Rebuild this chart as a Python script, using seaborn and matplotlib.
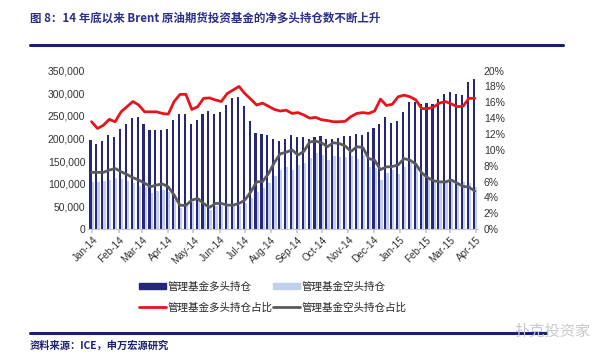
import numpy as np
import pandas as pd
import matplotlib
matplotlib.use("Agg")
import matplotlib.pyplot as plt
import matplotlib.dates as mdates
from matplotlib.patches import Patch
from matplotlib.lines import Line2D
from matplotlib.ticker import FuncFormatter
import seaborn as sns

# weekly data, Brent managed money positions
dates = pd.date_range("2013-12-31", periods=66, freq="7D")

long_pos = [197, 187, 194, 208, 204, 222, 233, 246, 247, 231, 219, 219, 219, 221, 242, 255, 255,
            233, 240, 255, 260, 255, 258, 275, 290, 291, 272, 238, 212, 210, 207, 200, 194,
            198, 208, 203, 203, 200, 203, 205, 200, 200, 202, 206, 206, 209, 208, 214, 224, 231,
            248, 234, 239, 259, 280, 280, 276, 279, 276, 287, 298, 302, 298, 296, 324, 332]
short_pos = [103, 103, 106, 108, 113, 110, 106, 101, 95, 94, 80, 85, 86, 82, 64, 47, 52, 60, 64, 53, 43,
             51, 52, 49, 50, 52, 58, 68, 82, 90, 101,
             118, 130, 138, 130, 141, 145, 156, 167, 164, 153, 161, 159, 160, 162,
             154, 164, 138, 134, 108, 123, 130, 121, 138, 145, 138, 123, 112, 105, 105, 105, 108, 105, 105, 101, 94]
long_pct = [13.55, 12.7, 13.1, 13.85, 13.55, 14.8, 15.45, 16.1, 15.66, 14.8, 14.8, 14.8, 14.6, 14.5, 16.1,
            17.0, 17.0, 15.1, 15.45, 16.5, 16.55,
            16.3, 16.1, 17.1, 17.55, 18.0, 17.1, 16.4, 15.66, 15.9, 15.5, 15.1, 14.9, 15.0, 14.6, 14.7,
            14.4, 14.0, 14.1, 13.8, 13.7, 13.55, 13.55, 13.6,
            14.2, 14.6, 14.7, 14.6, 14.9, 16.4, 15.6, 15.75, 16.7, 16.9, 16.7, 16.3, 15.2, 15.2, 15.4,
            15.9, 16.1, 15.8, 15.45, 15.5, 16.5, 16.5]
short_pct = [7.16, 7.16, 7.16, 7.45, 7.66, 7.24, 6.9, 6.5, 6.2, 5.8, 5.35, 5.56, 5.7, 5.35, 4.3, 3.0, 3.0,
             3.66, 3.87, 3.24, 2.74, 3.24,
             3.24, 3.03, 3.03, 3.24, 3.66, 4.7, 5.97,
             6.0, 7.0, 8.4, 9.5, 9.7, 10.0, 9.35, 9.8, 11.0, 11.1, 10.9, 10.4, 10.9, 10.8, 10.5, 9.8,
             10.4, 10.3, 8.9, 8.7, 7.5, 7.85, 7.9, 8.1, 8.9, 8.7, 8.2, 7.1, 6.5, 6.1, 5.97, 5.95, 6.2,
             5.8, 5.4, 5.3, 4.8]

names = ["管理基金多头持仓", "管理基金空头持仓", "管理基金多头持仓占比", "管理基金空头持仓占比"]
title = "图 8：14 年底以来 Brent 原油期货投资基金的净多头持仓数不断上升"
source = "资料来源：ICE，申万宏源研究"

navy = "#27277a"
light = "#c2cfec"
red = "#e8141c"
gray = "#5a5a5a"
title_col = "#2b2f86"

sns.set_theme(style="white")
plt.rcParams["font.family"] = ["Liberation Sans", "Noto Sans CJK SC", "DejaVu Sans"]
cjk = ["Noto Sans CJK SC", "DejaVu Sans"]

fig = plt.figure(figsize=(6, 3.62), dpi=100)
ax = fig.add_axes([0.147, 0.367, 0.65, 0.438])

xnum = mdates.date2num(dates)
bars = pd.DataFrame({
    "x": np.concatenate([xnum, xnum]),
    "value": np.array(long_pos + short_pos) * 1000,
    "kind": [names[0]] * len(long_pos) + [names[1]] * len(short_pos),
})
sns.barplot(data=bars, x="x", y="value", hue="kind", native_scale=True, dodge=True,
            width=0.74, palette=[navy, light], saturation=1, linewidth=0,
            errorbar=None, legend=False, ax=ax)

ax2 = ax.twinx()
sns.lineplot(x=xnum, y=long_pct, color=red, lw=2, ax=ax2)
sns.lineplot(x=xnum, y=short_pct, color=gray, lw=2, ax=ax2)

ax.set_xlim(xnum[0] - 4, xnum[-1] + 4)
ax.set_ylim(0, 350000)
ax2.set_ylim(0, 20)
ax.set_yticks(range(0, 350001, 50000))
ax2.set_yticks(range(0, 21, 2))
ax.yaxis.set_major_formatter(FuncFormatter(lambda v, p: f"{v:,.0f}"))
ax2.yaxis.set_major_formatter(FuncFormatter(lambda v, p: f"{v:.0f}%"))
ax.xaxis.set_major_locator(mdates.MonthLocator())
ax.xaxis.set_major_formatter(mdates.DateFormatter("%b-%y"))
ax.set_xlabel("")
ax.set_ylabel("")
ax2.set_ylabel("")

for a in (ax, ax2):
    for s in a.spines.values():
        s.set_visible(False)
    a.grid(False)
ax.spines["bottom"].set_visible(True)
ax.spines["bottom"].set_color("#c8c8c8")
ax.spines["bottom"].set_linewidth(0.8)

ax.tick_params(axis="y", length=0, pad=2, labelsize=7.5, labelcolor="#333333")
ax2.tick_params(axis="y", length=0, pad=4, labelsize=7.5, labelcolor="#333333")
ax.tick_params(axis="x", length=3, color="#c8c8c8", pad=1, labelsize=7.2, labelcolor="#333333",
               bottom=True)
for lab in ax.get_xticklabels():
    lab.set_rotation(45)
    lab.set_ha("right")
    lab.set_rotation_mode("anchor")

# legend: two rows, filled column by column
handles = [Patch(color=navy), Line2D([], [], color=red, lw=2),
           Patch(color=light), Line2D([], [], color=gray, lw=2)]
labels = [names[0], names[2], names[1], names[3]]
fig.legend(handles, labels, loc="upper left", bbox_to_anchor=(0.232, 0.222), ncol=2,
           frameon=False, prop={"family": cjk, "size": 7.6}, handlelength=2.5,
           handleheight=0.6, handletextpad=0.15, columnspacing=0.1, labelspacing=1.0,
           borderaxespad=0, borderpad=0)

fig.text(0.05, 0.95, title, ha="left", va="center", family=cjk, fontsize=8.3,
         fontweight="bold", color=title_col)
fig.add_artist(Line2D([0.05, 0.938], [0.875, 0.875], color="#1c1f6e", lw=2.2))
fig.add_artist(Line2D([0.05, 0.91], [0.08, 0.08], color="#1c1f6e", lw=2.2))
fig.text(0.05, 0.045, source, ha="left", va="center", family=cjk, fontsize=7.4,
         fontweight="bold", color="#1c1f6e")
fig.text(0.985, 0.085, "扑克投资家", ha="right", va="center", family=cjk, fontsize=11,
         color="#c9c9c9")

fig.savefig("out.png", dpi=100, facecolor="white")
